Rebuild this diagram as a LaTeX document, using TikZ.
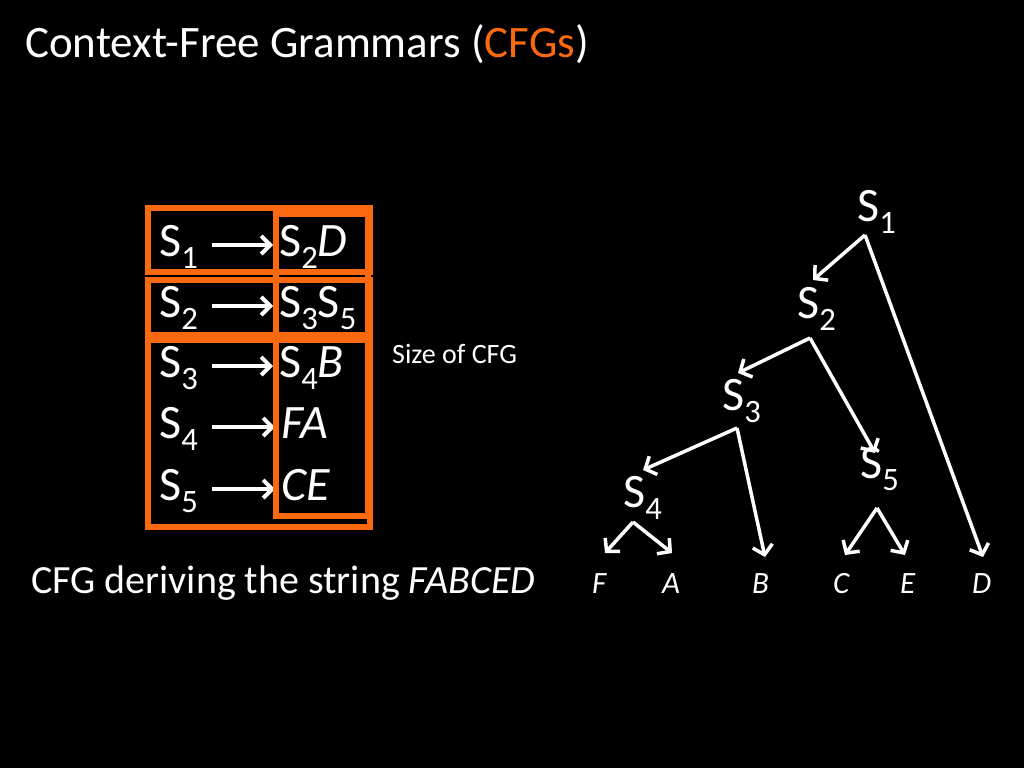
\documentclass[tikz,border=0pt]{standalone}
\usepackage{fontspec}
\setmainfont{Carlito}
\usetikzlibrary{arrows.meta}
\definecolor{cfgorange}{RGB}{250,105,15}
\newcommand\lowsub[1]{\raisebox{-.27em}{\scalebox{.68}{#1}}}
\tikzset{
  gbox/.style={draw=cfgorange,line width=6pt},
  rule/.style={white,line width=4pt,shorten <=14pt,shorten >=6pt,
    -{Straight Barb[length=9pt,width=18pt]}},
  branch/.style={white,line width=3.5pt,-{Straight Barb[length=9pt,width=20pt]}},
  sym/.style={text=white,inner sep=0pt,anchor=base west,font=\fontsize{48}{48}\selectfont},
  tsym/.style={sym,font=\fontsize{48}{48}\selectfont},
  leaf/.style={text=white,inner sep=0pt,anchor=base west,font=\fontsize{31}{31}\selectfont\itshape},
  caption/.style={text=white,inner sep=0pt,anchor=base west}
}
\begin{document}
\begin{tikzpicture}[x=1pt,y=-1pt]
\fill[black] (0,0) rectangle (1024,768);
\useasboundingbox (0,0) rectangle (1024,768);

% title
\node[caption,font=\fontsize{45}{45}\selectfont] (title) at (25,58)
  {Context-Free Grammars (\textcolor{cfgorange}{CFGs})};

% the grammar
\node[sym] (l1) at (159,256) {S\lowsub{1}};
\node[sym] (l2) at (159,317) {S\lowsub{2}};
\node[sym] (l3) at (159,377) {S\lowsub{3}};
\node[sym] (l4) at (159,438) {S\lowsub{4}};
\node[sym] (l5) at (159,500) {S\lowsub{5}};
\node[sym] (r1) at (279,256) {S\lowsub{2}\textit{D}};
\node[sym] (r2) at (279,317) {S\lowsub{3}S\lowsub{5}};
\node[sym] (r3) at (279,377) {S\lowsub{4}\textit{B}};
\node[sym] (r4) at (281,438) {\textit{FA}};
\node[sym] (r5) at (281,500) {\textit{CE}};
\foreach \i in {1,...,5}
  \draw[rule] ([yshift=11pt]l\i.base east) -- ([yshift=11pt]r\i.base west);

\draw[gbox] (148,208) rectangle (370,272);
\draw[gbox] (148,280) rectangle (370,335);
\draw[gbox] (148,340) rectangle (370,527);
\draw[gbox] (276,214) rectangle (368,516);

\node[caption,font=\fontsize{28}{28}\selectfont] (size) at (392,363) {Size of CFG};
\node[caption,font=\fontsize{40}{40}\selectfont] (deriv) at (31,593)
  {CFG deriving the string \textit{FABCED}};

% the parse tree
\node[tsym] (s1) at (857,221) {S\lowsub{1}};
\node[tsym] (s2) at (797,318) {S\lowsub{2}};
\node[tsym] (s3) at (722,410) {S\lowsub{3}};
\node[tsym] (s4) at (623,507) {S\lowsub{4}};
\node[tsym] (s5) at (860,478) {S\lowsub{5}};
\node[leaf] (f) at (592,593) {F};
\node[leaf] (a) at (662,593) {A};
\node[leaf] (b) at (752,593) {B};
\node[leaf] (c) at (833,593) {C};
\node[leaf] (e) at (900,593) {E};
\node[leaf] (d) at (972,593) {D};

\coordinate (s1-out) at (865,235);
\coordinate (s2-out) at (810,338);
\coordinate (s3-out) at (737,428);
\coordinate (s4-out) at (633,522);
\coordinate (s5-out) at (877,508);
\coordinate (s2-in) at (813,280);
\coordinate (s3-in) at (738,373);
\coordinate (s4-in) at (643,470);
\coordinate (s5-in) at (875,453);
\coordinate (b-in) at (765,557);
\coordinate (d-in) at (983,557);
\coordinate (f-in) at (605,553);
\coordinate (a-in) at (672,553);
\coordinate (c-in) at (845,555);
\coordinate (e-in) at (905,555);

\foreach \from/\to in {s1/s2,s1/d,s2/s3,s2/s5,s3/s4,s3/b,s4/f,s4/a,s5/c,s5/e}
  \draw[branch] (\from-out) -- (\to-in);
\end{tikzpicture}
\end{document}
